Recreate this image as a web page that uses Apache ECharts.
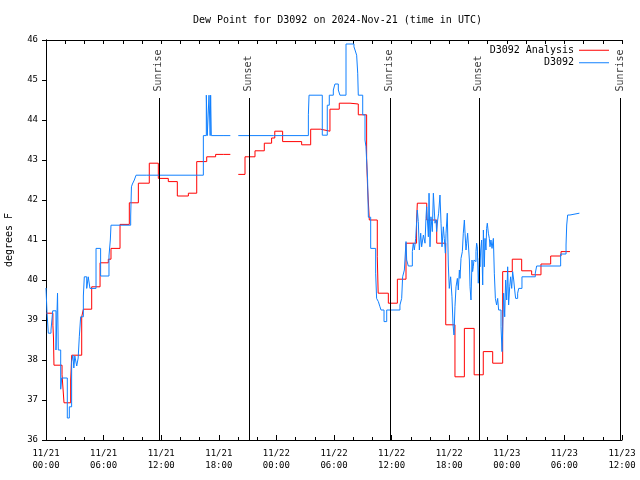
<!DOCTYPE html>
<html><head><meta charset="utf-8">
<script src="https://cdn.jsdelivr.net/npm/echarts@6/dist/echarts.min.js"></script>
<style>html,body{margin:0;padding:0;background:#fff}#c{width:640px;height:480px}</style>
</head><body><div id="c"></div>
<script>
// hours since 2024-11-21 00:00 UTC
var analysisTimes = [0,0.72,0.78,0.83,1.67,1.875,2.57,2.68,3.72,3.89,4.76,5.63,6.49,6.77,7.71,8.68,9.62,10.76,11.7,12.74,13.68,14.83,15.7,16.74,17.67,18.47,19.2,20.03,20.73,21.77,22.74,23.5,23.83,24.65,26.63,27.57,28.61,29.58,30.55,31.67,32.53,33.4,33.5,33.68,34.51,34.6,35.66,36.6,37.5,38.6,38.68,39.66,40.7,41.64,42.6,43.58,44.6,45.55,46.53,47.57,48.57,49.55,50.59,51.56,52.57,53.65,54.58];
var analysisValues = [39.17,38.87,38.55,37.87,37.63,36.93,37.5,38.12,39.08,39.27,39.83,40.43,40.52,40.79,41.39,41.93,42.42,42.92,42.54,42.46,42.1,42.17,42.96,43.08,43.14,43.14,null,42.64,43.08,43.23,43.42,43.55,43.72,43.46,43.38,43.77,43.72,44.27,44.42,44.4,44.13,43.04,42.3,41.5,40.58,39.67,39.42,40.02,40.92,41.42,41.92,41.5,40.92,38.88,37.58,38.79,37.63,38.21,37.92,40.21,40.52,40.23,40.13,40.4,40.6,40.71,40.71];

var obsTimes = [0,0.1,0.24,0.52,0.7,1.04,1.2,1.28,1.53,1.63,2.22,2.43,2.67,2.8,2.9,3.0,3.2,3.35,3.47,3.61,3.89,3.99,4.24,4.4,4.58,5.21,5.69,6.56,6.7,6.77,8.82,8.9,9.0,9.2,9.38,10.5,10.6,16.39,16.7,16.8,16.98,17.1,17.15,17.22,18.54,19.2,
20.03,23.68,23.85,27.33,27.4,28.78,29.3,29.51,29.93,30.1,30.28,30.45,30.62,31.25,32.08,32.19,32.36,32.47,32.53,32.99,33.23,33.33,33.5,
33.58,33.82,34.34,34.44,34.62,34.79,34.9,35.21,35.49,36.87,37.05,37.15,37.33,37.5,37.57,37.74,38.16,38.26,38.37,38.51,38.61,38.68,38.78,38.89,39.03,39.13,39.31,39.48,39.58,39.65,39.83,39.9,40.0,40.1,40.24,40.35,40.52,40.625,40.69,40.8,40.9,41.04,41.15,41.25,41.39,41.49,41.6,41.67,41.8,41.91,42.01,42.15,42.29,42.4,42.5,42.6,42.71,42.85,42.95,43.06,
43.125,43.23,43.37,43.47,43.58,43.65,43.75,43.82,43.92,44.1,44.17,44.27,44.375,44.44,44.51,44.58,44.69,44.79,44.86,44.93,45.03,45.14,45.21,45.28,45.38,45.49,45.56,45.66,45.73,45.83,45.9,45.97,46.08,46.18,46.25,46.35,46.46,46.6,46.7,46.81,46.94,47.05,47.15,47.4,47.5,47.57,47.67,47.78,47.88,47.99,48.09,48.19,48.3,48.4,48.51,48.61,48.72,48.82,48.92,49.13,49.24,49.58,50.97,51.11,53.61,54.17,54.24,54.34,54.58,55.56];
var obsValues = [39.8,39.21,38.67,38.75,39.23,38.25,39.67,38.25,37.27,37.55,36.55,36.83,37.96,38.12,37.8,38.1,37.85,38.05,38.58,39.08,39.6,40.08,39.79,40.08,39.79,40.79,40.1,40.6,41.0,41.37,41.6,42.33,42.4,42.5,42.62,42.65,42.62,43.61,44.62,43.61,44.62,43.61,44.62,43.61,43.61,null,
43.61,43.66,43.61,44.13,44.62,43.62,44.37,44.62,44.75,44.9,44.9,44.75,44.62,45.9,45.83,45.75,45.62,45.17,44.62,44.13,43.5,43.33,42.5,
41.57,40.79,40.17,39.54,39.46,39.33,39.25,38.96,39.25,39.375,39.54,40.08,40.25,40.96,40.5,40.35,40.71,40.92,40.75,41.04,41.46,41.75,41.46,40.75,41.17,40.83,41.125,40.92,41.54,41.83,41.08,42.17,40.83,41.58,41.21,42.17,41.42,41.5,41.21,41.5,41.67,42.125,41.42,40.83,41.33,41.04,40.67,41.17,41.67,40.375,39.79,40.08,39.58,38.875,38.625,39.33,39.83,40.04,39.75,40.25,
40.04,40.54,40.71,41.17,41.5,41.17,40.75,40.92,41.17,40.5,39.83,39.5,40.5,40.21,40.33,40.5,40.46,40.71,40.92,40.83,39.92,40.54,40.33,40.75,41.0,39.875,41.25,40.33,41.04,40.75,41.29,41.42,41.17,41.04,40.83,41.0,40.79,41.04,40.17,39.54,39.375,39.54,39.25,38.83,38.21,38.75,39.67,39.08,40.0,39.5,40.33,39.375,39.83,40.08,39.79,40.21,40.0,39.75,39.54,39.67,39.79,40.08,40.17,40.35,40.65,40.875,41.375,41.625,41.67,41.67];

var sunTimes = [11.8, 21.18, 35.82, 45.12, 59.84];
var sunLabels = ['Sunrise','Sunset','Sunrise','Sunset','Sunrise'];
var sunLineTop = 44.55;
var seriesNames = ['D3092 Analysis','D3092'];
var titleText = 'Dew Point for D3092 on 2024-Nov-21 (time in UTC)';
var yName = 'degrees F';

function pairs(t, v){ return t.map(function(x,i){ return [x, v[i]===null ? '-' : v[i]]; }); }
var mono = 'DejaVu Sans Mono';

var chart = echarts.init(document.getElementById('c'), null, {renderer:'canvas'});
var option = {
  animation:false,
  backgroundColor:'#ffffff',
  title:{text:titleText, left:188, top:10, textStyle:{fontFamily:mono, fontSize:10, fontWeight:'normal', color:'#000'}},
  legend:{orient:'vertical', right:26, top:39, align:'right', itemWidth:30, itemHeight:1, itemGap:0, icon:'rect',
    textStyle:{fontFamily:mono, fontSize:10, color:'#000', lineHeight:12.5}, data:seriesNames},
  grid:{left:46, right:18, top:40, bottom:40, containLabel:false, outerBoundsMode:'none'},
  xAxis:[{type:'value', min:0, max:60, interval:6, position:'bottom',
    axisLine:{lineStyle:{color:'#000', width:1}},
    axisTick:{inside:true, length:5, lineStyle:{color:'#000'}},
    minorTick:{show:true, splitNumber:3, length:3, lineStyle:{color:'#000'}},
    splitLine:{show:false},
    axisLabel:{margin:8, fontFamily:mono, fontSize:9, color:'#000', lineHeight:12,
      formatter:function(v){ var d=21+Math.floor(v/24); var h=v%24; return '11/'+d+'\n'+(h<10?'0':'')+h+':00'; }}},
   {type:'value', min:0, max:60, interval:2, position:'top',
    axisLine:{lineStyle:{color:'#000', width:1}},
    axisTick:{inside:true, length:4, lineStyle:{color:'#000'}},
    axisLabel:{show:false}, splitLine:{show:false}}],
  yAxis:[{type:'value', min:36, max:46, interval:1, position:'left',
    name:yName, nameLocation:'middle', nameGap:32, nameRotate:90,
    nameTextStyle:{fontFamily:mono, fontSize:10, color:'#000'},
    axisLine:{show:true, lineStyle:{color:'#000', width:1}},
    axisTick:{show:true, inside:false, length:4, lineStyle:{color:'#000'}},
    splitLine:{show:false},
    axisLabel:{margin:8, fontFamily:mono, fontSize:9, color:'#000'}},
   {type:'value', min:36, max:46, interval:1, position:'right',
    axisLine:{show:true, lineStyle:{color:'#000', width:1}},
    axisTick:{show:true, inside:true, length:4, lineStyle:{color:'#000'}},
    splitLine:{show:false}, axisLabel:{show:false}}],
  series:[
    {name:seriesNames[0], type:'line', step:'end', symbol:'none', connectNulls:false,
     data:pairs(analysisTimes, analysisValues), color:'#ff0000', lineStyle:{width:1, color:'#ff0000'}, z:3},
    {name:seriesNames[1], type:'line', step:'end', symbol:'none', connectNulls:false,
     data:pairs(obsTimes, obsValues), color:'#1080ff', lineStyle:{width:1, color:'#1080ff'}, z:4},
    {name:'sun', type:'scatter', symbolSize:1, clip:false, itemStyle:{color:'rgba(0,0,0,0)'}, z:5,
     data:sunTimes.map(function(t,i){ return {value:[t, sunLineTop], name:sunLabels[i]}; }),
     label:{show:true, formatter:'{b}', rotate:90, position:[0,-6], align:'left', verticalAlign:'middle',
       fontFamily:mono, fontSize:10, color:'#000'},
     markLine:{silent:true, symbol:['none','none'], label:{show:false},
       lineStyle:{color:'#000', width:1, type:'solid'},
       data:sunTimes.map(function(t){ return [{coord:[t,36]},{coord:[t,sunLineTop]}]; })}}
  ]
};
chart.setOption(option);
</script></body></html>
